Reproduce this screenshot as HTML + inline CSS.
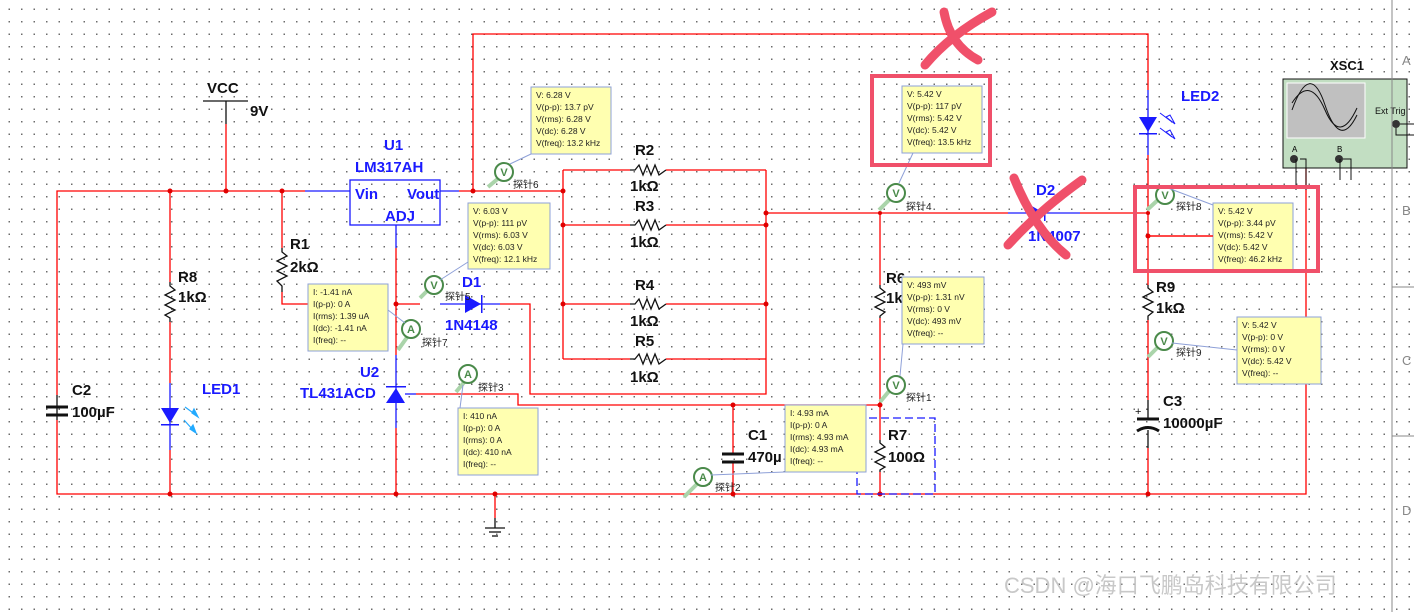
<!DOCTYPE html>
<html><head><meta charset="utf-8"><style>
body{margin:0;width:1414px;height:612px;overflow:hidden;background:#fff;
background-image:radial-gradient(circle,#6a6a6a 0.7px,transparent 0.9px);background-size:12.5px 12.5px;background-position:3px 3px;}
svg{position:absolute;left:0;top:0}
text{font-family:"Liberation Sans","Noto Sans CJK SC",sans-serif}
.lb{font-weight:bold;font-size:15px;fill:#111}
.bl{font-weight:bold;font-size:15px;fill:#1a1aff}
.tt{font-size:8.5px;fill:#222}
.pr{font-size:10px;fill:#222}
</style></head><body>
<svg width="1414" height="612" viewBox="0 0 1414 612">
<g fill="none" stroke="#ff0000" stroke-width="1.3">
<polyline points="473,191 473,34 1148,34 1148,90"/>
<polyline points="305,191 57,191 57,395"/>
<polyline points="57,420 57,494 1306,494 1306,150"/>
<line x1="170" y1="191" x2="170" y2="282"/>
<line x1="170" y1="322" x2="170" y2="383"/>
<line x1="170" y1="450" x2="170" y2="494"/>
<line x1="226" y1="124" x2="226" y2="191"/>
<polyline points="282,191 282,248"/>
<polyline points="282,292 282,304 308,304"/>
<line x1="396" y1="248" x2="396" y2="355"/>
<line x1="396" y1="428" x2="396" y2="494"/>
<line x1="420" y1="304" x2="396" y2="304"/>
<polyline points="500,304 530,304 530,394 766,394 766,170"/>
<polyline points="416,394 518,394 518,405 880,405"/>
<polyline points="459,191 563,191"/>
<line x1="563" y1="170" x2="563" y2="359"/>
<polyline points="563,170 630,170"/><polyline points="666,170 766,170"/>
<polyline points="563,225 630,225"/><polyline points="666,225 766,225"/>
<polyline points="563,304 630,304"/><polyline points="666,304 766,304"/>
<polyline points="563,359 630,359"/><polyline points="666,359 766,359"/>
<line x1="766" y1="213" x2="1008" y2="213"/>
<line x1="1080" y1="213" x2="1148" y2="213"/>
<line x1="880" y1="213" x2="880" y2="285"/>
<line x1="880" y1="318" x2="880" y2="440"/>
<line x1="880" y1="472" x2="880" y2="494"/>
<line x1="733" y1="405" x2="733" y2="453"/>
<line x1="733" y1="463" x2="733" y2="494"/>
<line x1="1148" y1="155" x2="1148" y2="285"/>
<line x1="1148" y1="320" x2="1148" y2="400"/>
<line x1="1148" y1="448" x2="1148" y2="494"/>
<line x1="1148" y1="236" x2="1215" y2="236"/>
<line x1="495" y1="494" x2="495" y2="518"/>
</g>
<g fill="#e00000">
<circle cx="170" cy="191" r="2.5"/><circle cx="226" cy="191" r="2.5"/><circle cx="282" cy="191" r="2.5"/><circle cx="473" cy="191" r="2.5"/>
<circle cx="396" cy="304" r="2.5"/><circle cx="563" cy="191" r="2.5"/><circle cx="563" cy="225" r="2.5"/><circle cx="563" cy="304" r="2.5"/>
<circle cx="766" cy="213" r="2.5"/><circle cx="766" cy="225" r="2.5"/><circle cx="766" cy="304" r="2.5"/>
<circle cx="880" cy="213" r="2"/><circle cx="880" cy="405" r="2.5"/><circle cx="733" cy="405" r="2.5"/>
<circle cx="1148" cy="213" r="2"/><circle cx="1148" cy="236" r="2.5"/><circle cx="1148" cy="494" r="2.5"/>
<circle cx="170" cy="494" r="2.5"/><circle cx="396" cy="494" r="2.5"/><circle cx="495" cy="494" r="2.5"/><circle cx="733" cy="494" r="2.5"/><circle cx="880" cy="494" r="2.5"/>
</g>
<g fill="none" stroke="#111" stroke-width="1.3">
<line x1="203" y1="101" x2="248" y2="101"/><line x1="226" y1="101" x2="226" y2="124"/>
<line x1="57" y1="395" x2="57" y2="420"/>
<line x1="46" y1="407" x2="68" y2="407" stroke-width="3"/><line x1="46" y1="415" x2="68" y2="415" stroke-width="3"/>
<polyline points="170,282 170,286 175,290 165,295 175,300 165,305 175,310 165,315 170,318 170,322"/>
<polyline points="282,248 282,252 287,256 277,261 287,266 277,271 287,276 277,281 282,286 282,292"/>
<polyline points="630,170 635,170 639,165 643,175 647,165 651,175 655,165 659,175 666,170"/>
<polyline points="630,225 635,225 639,220 643,230 647,220 651,230 655,220 659,230 666,225"/>
<polyline points="630,304 635,304 639,299 643,309 647,299 651,309 655,299 659,309 666,304"/>
<polyline points="630,359 635,359 639,354 643,364 647,354 651,364 655,354 659,364 666,359"/>
<polyline points="880,285 880,288 885,292 875,297 885,302 875,307 885,312 880,316 880,318"/>
<polyline points="880,440 880,443 885,447 875,452 885,457 875,462 885,467 880,470 880,472"/>
<polyline points="1148,285 1148,288 1153,292 1143,297 1153,302 1143,307 1153,312 1148,316 1148,320"/>
<line x1="722" y1="454" x2="744" y2="454" stroke-width="3"/><line x1="722" y1="462" x2="744" y2="462" stroke-width="3"/>
<line x1="1148" y1="400" x2="1148" y2="419"/><line x1="1148" y1="430" x2="1148" y2="448"/>
<line x1="1137" y1="419" x2="1159" y2="419" stroke-width="3"/><path d="M1137,431 Q1148,424 1159,431" stroke-width="3"/>
<line x1="495" y1="518" x2="495" y2="528"/><line x1="485" y1="528" x2="505" y2="528"/><line x1="489" y1="532" x2="501" y2="532"/><line x1="492" y1="536" x2="498" y2="536"/>
</g>
<text x="1135" y="415" font-size="11" fill="#111">+</text>
<g fill="none" stroke="#1a1aff" stroke-width="1.3">
<rect x="350" y="180" width="90" height="45"/>
<line x1="305" y1="191" x2="350" y2="191"/><line x1="440" y1="191" x2="459" y2="191"/>
<line x1="396" y1="225" x2="396" y2="248"/>
<line x1="396" y1="355" x2="396" y2="428"/>
<line x1="405" y1="394" x2="416" y2="394"/>
<line x1="170" y1="383" x2="170" y2="450"/>
<line x1="440" y1="304" x2="500" y2="304"/>
<line x1="1008" y1="213" x2="1080" y2="213"/>
<line x1="1148" y1="90" x2="1148" y2="155"/>
<rect x="857" y="418" width="78" height="76" stroke-dasharray="8,4"/>
</g>
<g fill="#1a1aff">
<polygon points="161,408 179,408 170,423"/><rect x="161" y="424" width="18" height="1.5"/>
<polygon points="1139,117 1157,117 1148,132"/><rect x="1139" y="133" width="18" height="1.5"/>
<polygon points="386,403 405,403 396,388"/><rect x="386" y="386" width="20" height="1.5"/>
<polygon points="465,295 465,313 481,304"/><rect x="481" y="295" width="1.5" height="18"/>
<polygon points="1030,205 1030,221 1044,213"/><rect x="1044" y="205" width="1.5" height="16"/>
</g>
<g stroke="#22aaff" stroke-width="1.2" fill="#22aaff"><line x1="185" y1="407" x2="196" y2="415"/><polygon points="192,413 198,417 194,409"/><line x1="184" y1="420" x2="194" y2="431"/><polygon points="190,429 196,433 193,425"/></g>
<g stroke="#1a1aff" stroke-width="1" fill="none"><line x1="1160" y1="113" x2="1172" y2="122"/><polygon points="1166,117 1175,124 1170,115"/><line x1="1160" y1="128" x2="1172" y2="137"/><polygon points="1166,132 1175,139 1170,130"/></g>
<text class="lb" x="207" y="93">VCC</text><text class="lb" x="250" y="116">9V</text>
<text class="bl" x="384" y="150">U1</text><text class="bl" x="355" y="172">LM317AH</text>
<text class="bl" x="355" y="199">Vin</text><text class="bl" x="407" y="199">Vout</text><text class="bl" x="385" y="221">ADJ</text>
<text class="lb" x="290" y="249">R1</text><text class="lb" x="290" y="272">2kΩ</text>
<text class="lb" x="178" y="282">R8</text><text class="lb" x="178" y="302">1kΩ</text>
<text class="lb" x="72" y="395">C2</text><text class="lb" x="72" y="417">100µF</text>
<text class="bl" x="202" y="394" font-size="14">LED1</text>
<text class="bl" x="360" y="377">U2</text><text class="bl" x="300" y="398">TL431ACD</text>
<text class="bl" x="462" y="287">D1</text><text class="bl" x="445" y="330">1N4148</text>
<text class="lb" x="635" y="155">R2</text><text class="lb" x="630" y="191">1kΩ</text>
<text class="lb" x="635" y="211">R3</text><text class="lb" x="630" y="247">1kΩ</text>
<text class="lb" x="635" y="290">R4</text><text class="lb" x="630" y="326">1kΩ</text>
<text class="lb" x="635" y="346">R5</text><text class="lb" x="630" y="382">1kΩ</text>
<text class="bl" x="1036" y="195">D2</text><text class="bl" x="1028" y="241">1N4007</text>
<text class="lb" x="886" y="283">R6</text><text class="lb" x="886" y="303">1kΩ</text>
<text class="lb" x="888" y="440">R7</text><text class="lb" x="888" y="462">100Ω</text>
<text class="lb" x="748" y="440">C1</text><text class="lb" x="748" y="462">470µ</text>
<text class="bl" x="1181" y="101" font-size="14">LED2</text>
<text class="lb" x="1156" y="292">R9</text><text class="lb" x="1156" y="313">1kΩ</text>
<text class="lb" x="1163" y="406">C3</text><text class="lb" x="1163" y="428">10000µF</text>
<text x="1330" y="70" font-family="Liberation Mono" font-weight="bold" font-size="13" fill="#111">XSC1</text>
<rect x="1283" y="79" width="124" height="89" fill="#c2dec2" stroke="#111"/>
<rect x="1287" y="83" width="78" height="55" fill="#c0c0c0" stroke="#fff"/>
<path d="M1292,110 Q1310,60 1325,105 T1357,115" fill="none" stroke="#111"/>
<path d="M1292,103 Q1310,75 1325,110 T1357,108" fill="none" stroke="#111"/>
<text x="1375" y="114" font-size="9" fill="#111">Ext Trig</text>
<circle cx="1396" cy="124" r="4" fill="#333"/><circle cx="1294" cy="159" r="4" fill="#333"/><circle cx="1339" cy="159" r="4" fill="#333"/>
<text x="1292" y="152" font-size="8">A</text><text x="1337" y="152" font-size="8">B</text>
<g stroke="#111" fill="none"><polyline points="1296,159 1296,190"/><polyline points="1300,159 1306,159 1306,190"/><polyline points="1340,159 1340,180"/><polyline points="1343,159 1351,159 1351,180"/><polyline points="1400,124 1414,124"/><polyline points="1396,128 1396,135 1414,135"/></g>
<g stroke="#888"><line x1="1392" y1="0" x2="1392" y2="612"/><line x1="1392" y1="287" x2="1414" y2="287"/><line x1="1392" y1="436" x2="1414" y2="436"/></g>
<g font-size="13" fill="#888"><text x="1402" y="65">A</text><text x="1402" y="215">B</text><text x="1402" y="365">C</text><text x="1402" y="515">D</text></g>
<g stroke="#aad4aa" stroke-width="4"><line x1="488" y1="187" x2="500" y2="177"/><line x1="420" y1="298" x2="430" y2="288"/><line x1="398" y1="350" x2="408" y2="336"/><line x1="456" y1="392" x2="466" y2="380"/><line x1="879" y1="210" x2="891" y2="198"/><line x1="1147" y1="210" x2="1160" y2="198"/><line x1="1148" y1="357" x2="1160" y2="345"/><line x1="880" y1="402" x2="890" y2="390"/><line x1="684" y1="497" x2="698" y2="483"/></g>
<g fill="#fff" stroke="#4a8a4a" stroke-width="2">
<circle cx="504" cy="172" r="9"/><circle cx="434" cy="285" r="9"/><circle cx="411" cy="329" r="9"/><circle cx="468" cy="374" r="9"/><circle cx="896" cy="193" r="9"/><circle cx="1165" cy="195" r="9"/><circle cx="1164" cy="341" r="9"/><circle cx="896" cy="385" r="9"/><circle cx="703" cy="477" r="9"/></g>
<g font-size="11" fill="#4a8a4a" font-weight="bold" text-anchor="middle">
<text x="504" y="176">V</text><text x="434" y="289">V</text><text x="411" y="333">A</text><text x="468" y="378">A</text><text x="896" y="197">V</text><text x="1165" y="199">V</text><text x="1164" y="345">V</text><text x="896" y="389">V</text><text x="703" y="481">A</text></g>
<g><text class="pr" x="513" y="188">探针6</text><text class="pr" x="445" y="300">探针5</text><text class="pr" x="422" y="346">探针7</text><text class="pr" x="478" y="391">探针3</text><text class="pr" x="906" y="210">探针4</text><text class="pr" x="1176" y="210">探针8</text><text class="pr" x="1176" y="356">探针9</text><text class="pr" x="906" y="401">探针1</text><text class="pr" x="715" y="491">探针2</text></g>
<g fill="#ffffb0" stroke="#8ea0d8">
<rect x="531" y="87" width="80" height="67"/><rect x="468" y="203" width="82" height="66"/><rect x="308" y="284" width="80" height="67"/>
<rect x="458" y="408" width="80" height="67"/><rect x="902" y="86" width="80" height="67"/><rect x="1213" y="203" width="80" height="67"/>
<rect x="902" y="277" width="82" height="67"/><rect x="1237" y="317" width="84" height="67"/><rect x="785" y="405" width="81" height="67"/>
</g>
<g stroke="#8ea0d8" fill="none"><line x1="510" y1="164" x2="531" y2="154"/><line x1="440" y1="280" x2="468" y2="262"/><line x1="405" y1="323" x2="388" y2="310"/><line x1="463" y1="385" x2="460" y2="408"/><line x1="899" y1="183" x2="913" y2="153"/><line x1="1168" y1="188" x2="1213" y2="205"/><line x1="1172" y1="343" x2="1237" y2="350"/><line x1="900" y1="376" x2="903" y2="344"/><line x1="711" y1="475" x2="785" y2="472"/></g>
<g class="tt">
<text x="536" y="98">V: 6.28 V</text><text x="536" y="110">V(p-p): 13.7 pV</text><text x="536" y="122">V(rms): 6.28 V</text><text x="536" y="134">V(dc): 6.28 V</text><text x="536" y="146">V(freq): 13.2 kHz</text>
<text x="473" y="214">V: 6.03 V</text><text x="473" y="226">V(p-p): 111 pV</text><text x="473" y="238">V(rms): 6.03 V</text><text x="473" y="250">V(dc): 6.03 V</text><text x="473" y="262">V(freq): 12.1 kHz</text>
<text x="313" y="295">I: -1.41 nA</text><text x="313" y="307">I(p-p): 0 A</text><text x="313" y="319">I(rms): 1.39 uA</text><text x="313" y="331">I(dc): -1.41 nA</text><text x="313" y="343">I(freq): --</text>
<text x="463" y="419">I: 410 nA</text><text x="463" y="431">I(p-p): 0 A</text><text x="463" y="443">I(rms): 0 A</text><text x="463" y="455">I(dc): 410 nA</text><text x="463" y="467">I(freq): --</text>
<text x="907" y="97">V: 5.42 V</text><text x="907" y="109">V(p-p): 117 pV</text><text x="907" y="121">V(rms): 5.42 V</text><text x="907" y="133">V(dc): 5.42 V</text><text x="907" y="145">V(freq): 13.5 kHz</text>
<text x="1218" y="214">V: 5.42 V</text><text x="1218" y="226">V(p-p): 3.44 pV</text><text x="1218" y="238">V(rms): 5.42 V</text><text x="1218" y="250">V(dc): 5.42 V</text><text x="1218" y="262">V(freq): 46.2 kHz</text>
<text x="907" y="288">V: 493 mV</text><text x="907" y="300">V(p-p): 1.31 nV</text><text x="907" y="312">V(rms): 0 V</text><text x="907" y="324">V(dc): 493 mV</text><text x="907" y="336">V(freq): --</text>
<text x="1242" y="328">V: 5.42 V</text><text x="1242" y="340">V(p-p): 0 V</text><text x="1242" y="352">V(rms): 0 V</text><text x="1242" y="364">V(dc): 5.42 V</text><text x="1242" y="376">V(freq): --</text>
<text x="790" y="416">I: 4.93 mA</text><text x="790" y="428">I(p-p): 0 A</text><text x="790" y="440">I(rms): 4.93 mA</text><text x="790" y="452">I(dc): 4.93 mA</text><text x="790" y="464">I(freq): --</text>
</g>
<line x1="1148" y1="236" x2="1213" y2="236" stroke="#f00" stroke-width="1.3"/>
<g fill="none" stroke="#f0506a" stroke-width="4"><rect x="872" y="76" width="118" height="89"/><rect x="1135" y="187" width="183" height="84"/></g>
<g fill="none" stroke="#f0506a" stroke-width="9" stroke-linecap="round"><path d="M944,12 Q950,45 978,60"/><path d="M992,12 Q950,35 925,65"/><path d="M1014,178 Q1035,230 1066,255"/><path d="M1082,180 Q1040,210 1008,245"/></g>
<text x="1004" y="593" font-size="22" fill="#c8c8c8">CSDN @海口飞鹏岛科技有限公司</text>
</svg>
</body></html>
